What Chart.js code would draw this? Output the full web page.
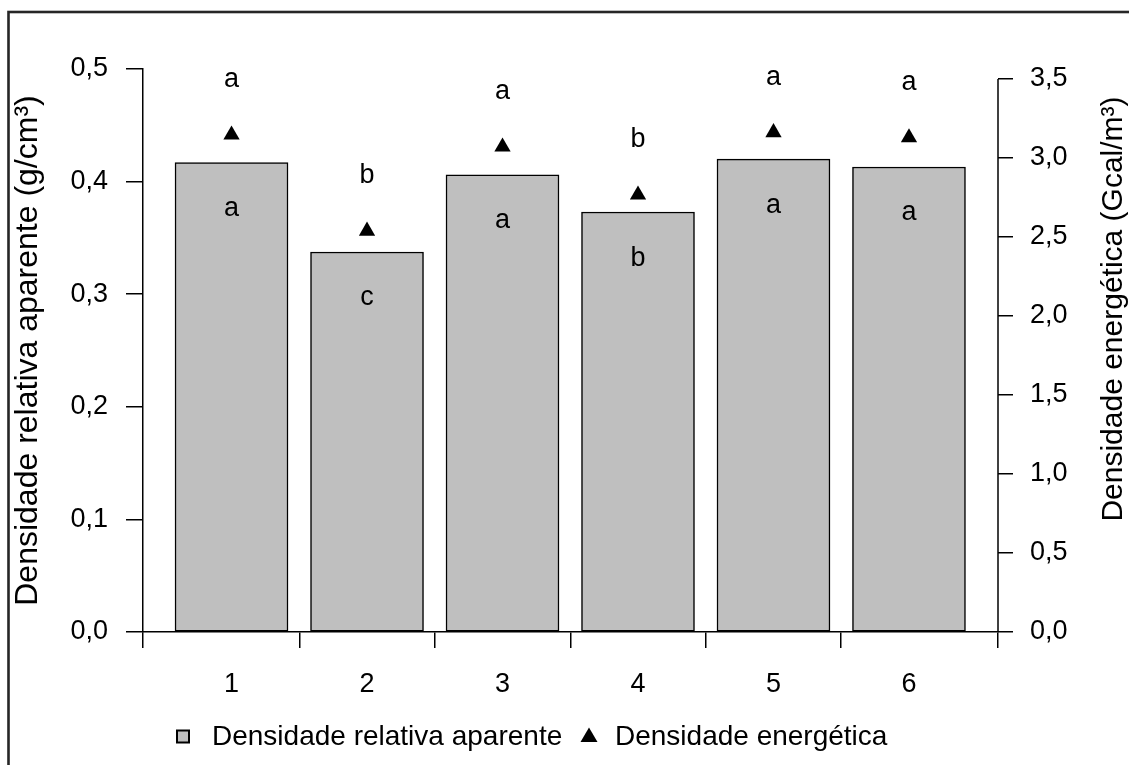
<!DOCTYPE html>
<html>
<head>
<meta charset="utf-8">
<script src="https://cdn.jsdelivr.net/npm/chart.js@4.4.0/dist/chart.umd.min.js"></script>
<style>
  html, body { margin: 0; padding: 0; background: #fff; }
  #wrap { width: 1129px; height: 765px; position: relative; }
</style>
</head>
<body>
<div id="wrap"><canvas id="densChart"></canvas></div>
<script>
// tratamentos (eixo x)
const categories = [1, 2, 3, 4, 5, 6];
// densidade relativa aparente (g/cm³) - barras
const densRelativa = [0.417, 0.3375, 0.406, 0.373, 0.42, 0.413];
// densidade energética (Gcal/m³) - triângulos
const densEnergetica = [3.146, 2.538, 3.07, 2.767, 3.161, 3.129];
// letras do teste de médias
const letrasEnergetica = ["a", "b", "a", "b", "a", "a"];
const letrasRelativa = ["a", "c", "a", "b", "a", "a"];
// marcas dos eixos
const yTicks = [0, 0.1, 0.2, 0.3, 0.4, 0.5];
const yTickLabels = ["0,0", "0,1", "0,2", "0,3", "0,4", "0,5"];
const y2Ticks = [0, 0.5, 1, 1.5, 2, 2.5, 3, 3.5];
const y2TickLabels = ["0,0", "0,5", "1,0", "1,5", "2,0", "2,5", "3,0", "3,5"];
const xMin = 0.343, xMax = 6.657;
const xTickMarks = [xMin, 1.5, 2.5, 3.5, 4.5, 5.5, xMax];

const FONTE = '"Liberation Sans", Arial, sans-serif';
Chart.defaults.font.family = FONTE;
Chart.defaults.color = "#000";

const xTicks = categories.concat(xTickMarks).sort((a, b) => a - b);

// letras, eixo direito, título direito, legenda e moldura
const extras = {
  id: "extras",
  beforeDraw(chart) {
    const c = chart.ctx;
    c.save();
    c.fillStyle = "#fff";
    c.fillRect(0, 0, chart.width, chart.height);
    c.restore();
  },
  afterDatasetsDraw(chart) {
    const c = chart.ctx;
    const barras = chart.getDatasetMeta(0).data;
    const pontos = chart.getDatasetMeta(1).data;
    c.save();
    c.font = "27px " + FONTE;
    c.fillStyle = "#000";
    c.textAlign = "center";
    c.textBaseline = "alphabetic";
    barras.forEach((b, i) => c.fillText(letrasRelativa[i], b.x, b.y + 53.5));
    pontos.forEach((p, i) => c.fillText(letrasEnergetica[i], p.x, p.y - 47.5));
    c.restore();
  },
  afterDraw(chart) {
    const c = chart.ctx;
    const y2 = chart.scales.y2;
    c.save();
    // linha do eixo direito (0 a 3,5)
    c.strokeStyle = "#000";
    c.lineWidth = 1.5;
    c.beginPath();
    c.moveTo(y2.left, y2.getPixelForValue(0));
    c.lineTo(y2.left, y2.getPixelForValue(3.5));
    c.stroke();

    // título do eixo direito
    c.font = "30px " + FONTE;
    c.fillStyle = "#000";
    c.textAlign = "center";
    c.textBaseline = "middle";
    c.translate(1114, 309);
    c.rotate(-Math.PI / 2);
    c.fillText("Densidade energética (Gcal/m³)", 0, 0);
    c.setTransform(1, 0, 0, 1, 0, 0);
    c.restore();

    // legenda
    c.save();
    c.fillStyle = "#bfbfbf";
    c.strokeStyle = "#000";
    c.lineWidth = 2;
    c.fillRect(177, 730.5, 12, 12);
    c.strokeRect(177, 730.5, 12, 12);
    c.fillStyle = "#000";
    c.beginPath();
    c.moveTo(589, 727.5);
    c.lineTo(597.5, 742);
    c.lineTo(580.5, 742);
    c.closePath();
    c.fill();
    c.font = "28px " + FONTE;
    c.textAlign = "left";
    c.textBaseline = "middle";
    c.fillText("Densidade relativa aparente", 212, 737);
    c.fillText("Densidade energética", 615, 737);

    // moldura
    c.strokeStyle = "#262626";
    c.lineWidth = 2.6;
    c.strokeRect(8.5, 12, 1140, 800);
    c.restore();
  }
};

const ctx = document.getElementById("densChart").getContext("2d");

new Chart(ctx, {
  type: "bar",
  data: {
    datasets: [
      {
        label: "Densidade relativa aparente",
        data: categories.map((c, i) => ({ x: c, y: densRelativa[i] })),
        backgroundColor: "#bfbfbf",
        borderColor: "#000",
        borderWidth: 1.5,
        borderSkipped: false,
        barThickness: 113,
        yAxisID: "y"
      },
      {
        type: "scatter",
        label: "Densidade energética",
        data: categories.map((c, i) => ({ x: c, y: densEnergetica[i] })),
        pointStyle: "triangle",
        pointRadius: 9.4,
        backgroundColor: "#000",
        borderColor: "#000",
        borderWidth: 0,
        yAxisID: "y2"
      }
    ]
  },
  options: {
    responsive: true,
    maintainAspectRatio: false,
    animation: false,
    events: [],
    layout: { padding: { top: 69, left: 0, right: 0, bottom: 0 } },
    plugins: {
      legend: { display: false },
      tooltip: { enabled: false }
    },
    scales: {
      x: {
        type: "linear",
        offset: false,
        min: xMin,
        max: xMax,
        afterBuildTicks: (s) => { s.ticks = xTicks.map((v) => ({ value: v })); },
        afterFit: (s) => { s.height = 133; },
        ticks: {
          autoSkip: false,
          maxRotation: 0,
          padding: 20,
          font: { size: 27 },
          callback: (v) => (categories.includes(v) ? String(v) : "")
        },
        grid: {
          display: true,
          offset: false,
          drawOnChartArea: false,
          tickLength: 16,
          lineWidth: 1.5,
          tickColor: (c) => (c.tick && categories.includes(c.tick.value) ? "rgba(0,0,0,0)" : "#000")
        },
        border: { display: true, color: "#000", width: 1.5 }
      },
      y: {
        position: "left",
        min: 0,
        max: 0.5,
        afterBuildTicks: (s) => { s.ticks = yTicks.map((v) => ({ value: v })); },
        afterFit: (s) => { s.width = 142.5; },
        ticks: {
          padding: 18,
          font: { size: 27 },
          callback: (v, i) => yTickLabels[i]
        },
        grid: {
          display: true,
          drawOnChartArea: false,
          tickLength: 16.5,
          lineWidth: 1.5,
          tickColor: "#000"
        },
        border: { display: true, color: "#000", width: 1.5 },
        title: {
          display: true,
          text: "Densidade relativa aparente (g/cm³)",
          font: { size: 32 },
          padding: { top: 9, bottom: 0 }
        }
      },
      y2: {
        position: "right",
        min: 0,
        max: 3.563,
        afterBuildTicks: (s) => { s.ticks = y2Ticks.map((v) => ({ value: v })); },
        afterFit: (s) => { s.width = 131; },
        ticks: {
          padding: 17,
          font: { size: 27 },
          callback: (v, i) => y2TickLabels[i]
        },
        grid: {
          display: true,
          drawOnChartArea: false,
          tickLength: 15,
          lineWidth: 1.5,
          tickColor: "#000"
        },
        border: { display: false }
      }
    }
  },
  plugins: [extras]
});
</script>
</body>
</html>
